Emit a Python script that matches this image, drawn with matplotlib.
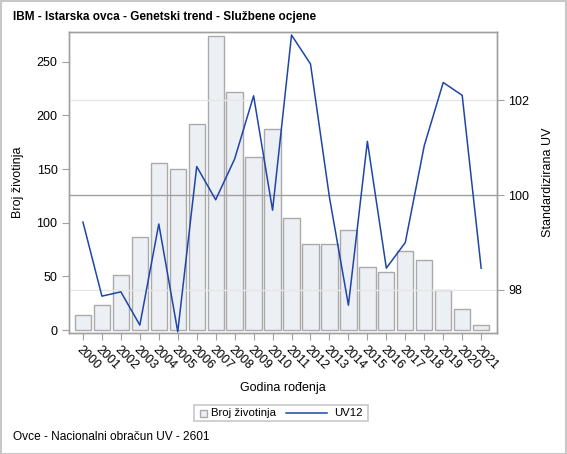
import matplotlib
matplotlib.use("Agg")
import matplotlib.pyplot as plt
from matplotlib.patches import Rectangle
from matplotlib.lines import Line2D

plt.rcParams['font.family'] = ['Liberation Sans', 'DejaVu Sans']

years = [str(y) for y in range(2000, 2022)]
counts = [14, 23, 51, 87, 156, 150, 192, 274, 222, 161, 187,
          104, 80, 80, 93, 59, 54, 74, 65, 37, 20, 5]
uv12 = [99.43, 97.87, 97.96, 97.26, 99.39, 97.12, 100.60, 99.90, 100.76, 102.09, 99.68,
        103.37, 102.76, 99.95, 97.68, 101.13, 98.46, 99.00, 101.04, 102.37, 102.10, 98.46]
legend_labels = ['Broj životinja', 'UV12']

W, H = 567, 454
BAR_FACE = '#ECEFF4'
BAR_EDGE = '#AAAAAA'
LINE_C = '#1F45A8'
FRAME = '#A0A0A0'


def fx(px):
    return px / W


def fy(py):
    return 1 - py / H


fig = plt.figure(figsize=(W / 100, H / 100), dpi=100)
ax = fig.add_axes([fx(69.3), fy(332.7), (496.7 - 69.3) / W, (332.7 - 31.7) / H])
ax2 = ax.twinx()

x = list(range(len(years)))
ax.bar(x, counts, width=0.86, color=BAR_FACE, edgecolor=BAR_EDGE, linewidth=1.0, zorder=2)
ax.set_ylim(-2.5, 278)
ax.set_xlim(-0.72, 21.82)
ax.set_yticks([0, 50, 100, 150, 200, 250])
ax.set_xticks(x)
ax.set_xticklabels(years, rotation=-45, ha='left', va='top', rotation_mode='anchor', fontsize=9)
ax.tick_params(axis='y', labelsize=9, color=FRAME, length=5)
ax.tick_params(axis='x', color=FRAME, length=5, pad=3)
ax.set_ylabel('Broj životinja', fontsize=9, labelpad=9)
ax.set_xlabel('Godina rođenja', fontsize=9, labelpad=7)

ax2.set_ylim(97.10, 103.44)
ax2.set_yticks([98, 100, 102])
ax2.tick_params(axis='y', labelsize=9, color=FRAME, length=5)
ax2.set_ylabel('Standardizirana UV', fontsize=9, labelpad=9)
for yv in [98, 102]:
    ax2.axhline(yv, color='#E6E6E6', lw=1.0, zorder=0)
ax2.axhline(100, color=FRAME, lw=1.0, zorder=1)
ax2.plot(x, uv12, color=LINE_C, lw=1.1, zorder=3)

ax.set_zorder(0)
ax2.set_zorder(1)
ax2.patch.set_visible(False)

for a in (ax, ax2):
    for s in a.spines.values():
        s.set_color(FRAME)
        s.set_linewidth(1.0)

fig.text(fx(13), fy(17), 'IBM - Istarska ovca - Genetski trend - Službene ocjene',
         fontsize=8.5, fontweight='bold', va='center', ha='left')
fig.text(fx(13), fy(437.5), 'Ovce - Nacionalni obračun UV - 2601', fontsize=8.6, va='center', ha='left')

# legend (drawn manually to match handle sizes)
fig.patches.append(Rectangle((fx(194.3), fy(421)), (368 - 194.3) / W, 16 / H, transform=fig.transFigure,
                             fill=False, edgecolor='#C8C8C8', lw=1.2))
fig.patches.append(Rectangle((fx(200), fy(416.5)), 7 / W, 7 / H, transform=fig.transFigure,
                             facecolor=BAR_FACE, edgecolor=BAR_EDGE, lw=1.0))
fig.text(fx(211), fy(413), legend_labels[0], fontsize=8.2, va='center', ha='left')
fig.lines.append(Line2D([fx(286), fx(327)], [fy(413), fy(413)], transform=fig.transFigure,
                        color=LINE_C, lw=1.1))
fig.text(fx(334.5), fy(413), legend_labels[1], fontsize=8.2, va='center', ha='left')

fig.patches.append(Rectangle((0.5 / W, 0.5 / H), 1 - 1.5 / W, 1 - 1.5 / H, transform=fig.transFigure,
                             fill=False, edgecolor='#C8C8C8', lw=1.5))

fig.savefig('out.png', dpi=100)
